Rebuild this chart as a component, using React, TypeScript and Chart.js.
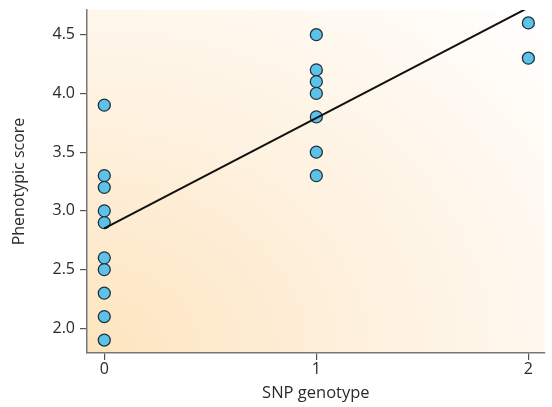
import React, { useEffect, useRef } from "react";
import { Chart, registerables } from "chart.js";

Chart.register(...registerables);

const genotype0: number[] = [3.9, 3.3, 3.2, 3.0, 2.9, 2.6, 2.5, 2.3, 2.1, 1.9];
const genotype1: number[] = [4.5, 4.2, 4.1, 4.0, 3.8, 3.5, 3.3];
const genotype2: number[] = [4.6, 4.3];
const fitX: number[] = [0, 2];
const fitY: number[] = [2.85, 4.73];
const xTicks: number[] = [0, 1, 2];
const yTicks: number[] = [2.0, 2.5, 3.0, 3.5, 4.0, 4.5];

const FONT = "'Open Sans', 'Noto Sans', sans-serif";

export default function App() {
  const ref = useRef<HTMLCanvasElement | null>(null);

  useEffect(() => {
    document.body.style.margin = "0";
    const canvas = ref.current;
    if (!canvas) return;

    const points = [
      ...genotype0.map((y) => ({ x: 0, y })),
      ...genotype1.map((y) => ({ x: 1, y })),
      ...genotype2.map((y) => ({ x: 2, y })),
    ];
    const line = fitX.map((x, i) => ({ x, y: fitY[i] }));

    const bgPlugin = {
      id: "bg",
      beforeDraw(chart: any) {
        const { ctx, chartArea } = chart;
        const { left, right, top, bottom } = chartArea;
        const w = right - left;
        const h = bottom - top;
        ctx.save();
        ctx.beginPath();
        ctx.rect(left, top, w, h);
        ctx.clip();
        ctx.translate(left, bottom);
        ctx.scale(1.25, 1);
        const r = Math.hypot(w / 1.25, h);
        const g = ctx.createRadialGradient(0, 0, 0, 0, 0, r);
        g.addColorStop(0, "#fde4be");
        g.addColorStop(0.45, "#fef1de");
        g.addColorStop(0.8, "#fffaf3");
        g.addColorStop(1, "#ffffff");
        ctx.fillStyle = g;
        ctx.fillRect(0, -h, w / 1.25, h);
        ctx.restore();
      },
    };

    const chart = new Chart(canvas, {
      type: "scatter",
      data: {
        datasets: [
          {
            type: "line",
            data: line,
            borderColor: "#111111",
            borderWidth: 2,
            pointRadius: 0,
            fill: false,
          } as any,
          {
            data: points,
            backgroundColor: "#5cc2ea",
            borderColor: "#22303a",
            borderWidth: 1.3,
            pointRadius: 6,
          },
        ],
      },
      options: {
        animation: false,
        responsive: false,
        devicePixelRatio: 1,
        layout: { padding: { left: 0, top: 10, right: 7, bottom: 0 } },
        plugins: { legend: { display: false }, tooltip: { enabled: false } },
        scales: {
          x: {
            type: "linear",
            min: -0.0815,
            max: 2.077,
            afterBuildTicks: (axis: any) => {
              axis.ticks = xTicks.map((v) => ({ value: v }));
            },
            afterFit: (axis: any) => {
              axis.height = 54;
              axis.paddingLeft = 0;
              axis.paddingRight = 0;
            },
            grid: { drawOnChartArea: false, drawTicks: true, tickLength: 7, color: "#555", lineWidth: 1.2 },
            border: { color: "#777", width: 1.5 },
            ticks: { color: "#2a2a2a", font: { family: FONT, size: 16 }, padding: 0 },
            title: {
              display: true,
              text: "SNP genotype",
              color: "#2a2a2a",
              font: { family: FONT, size: 16.5 },
              padding: { top: 0, bottom: 4 },
            },
          },
          y: {
            type: "linear",
            min: 1.79,
            max: 4.71,
            afterBuildTicks: (axis: any) => {
              axis.ticks = yTicks.map((v) => ({ value: v }));
            },
            afterFit: (axis: any) => {
              axis.width = 87;
              axis.paddingTop = 0;
              axis.paddingBottom = 0;
            },
            grid: { drawOnChartArea: false, drawTicks: true, tickLength: 7, color: "#555", lineWidth: 1.2 },
            border: { color: "#777", width: 1.5 },
            ticks: {
              color: "#2a2a2a",
              font: { family: FONT, size: 16 },
              padding: 5,
              callback: (v: any) => Number(v).toFixed(1),
            },
            title: {
              display: true,
              text: "Phenotypic score",
              color: "#2a2a2a",
              font: { family: FONT, size: 16 },
              padding: { top: 10, bottom: 0 },
            },
          },
        },
      },
      plugins: [bgPlugin],
    });

    return () => chart.destroy();
  }, []);

  return (
    <div style={{ position: "absolute", left: 0, top: 0, width: 552, height: 407, background: "#fff" }}>
      <canvas ref={ref} width={552} height={407} style={{ width: 552, height: 407 }} />
    </div>
  );
}
